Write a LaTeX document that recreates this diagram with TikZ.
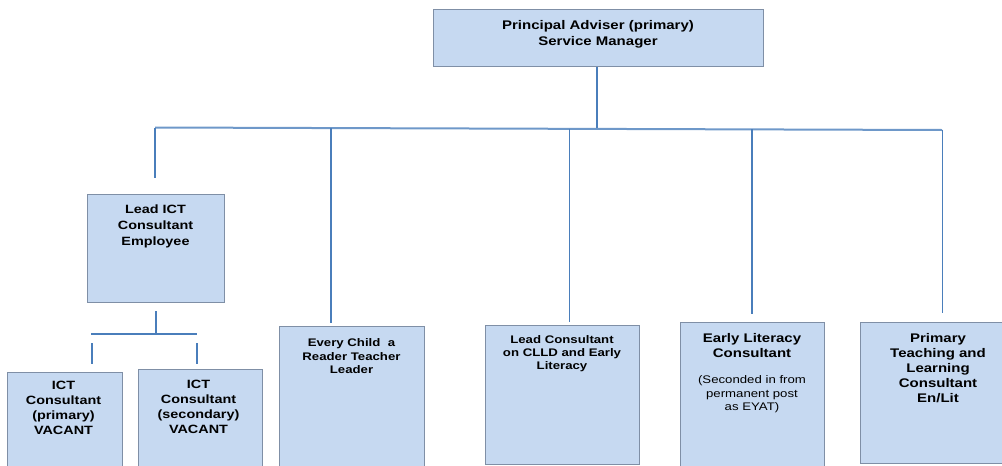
\documentclass[tikz,border=0pt]{standalone}
\usepackage{fontspec}
\setmainfont{Liberation Sans}[FakeStretch=1.2]
\begin{document}
\begin{tikzpicture}[x=1pt,y=-1pt,
  box/.style={draw=boxline, fill=boxfill, line width=0.8pt, rectangle, inner sep=0pt},
  txt/.style={align=center, inner sep=0pt, anchor=north, text=black},
  conn/.style={draw=connblue, line width=#1},
  conn/.default=2pt]
\definecolor{boxfill}{HTML}{C6D9F1}
\definecolor{boxline}{HTML}{7F8FA6}
\definecolor{connblue}{HTML}{4A7EBB}
\useasboundingbox (0,0) rectangle (1002,466);
\clip (0,0) rectangle (1002,466);
% boxes
\node[box, minimum width=330pt, minimum height=57pt, anchor=north west] (top) at (433,9) {};
\node[box, minimum width=137pt, minimum height=108pt, anchor=north west] (leadict) at (87,194) {};
\node[box, minimum width=115pt, minimum height=110pt, anchor=north west] (ictp) at (7,372) {};
\node[box, minimum width=124pt, minimum height=110pt, anchor=north west] (icts) at (138,369) {};
\node[box, minimum width=145pt, minimum height=150pt, anchor=north west] (every) at (279,326) {};
\node[box, minimum width=154pt, minimum height=139pt, anchor=north west] (leadc) at (485,325) {};
\node[box, minimum width=144pt, minimum height=160pt, anchor=north west] (early) at (680,322) {};
\node[box, minimum width=160pt, minimum height=141pt, anchor=north west] (primt) at (860,322) {};
% texts
\node[txt, font=\bfseries\fontsize{12.5}{16}\selectfont] (ttop) at (598,20.5) {Principal Adviser (primary)\\Service Manager};
\node[txt, font=\bfseries\fontsize{12}{16}\selectfont] (tleadict) at (155.5,204.5) {Lead ICT\\Consultant\\Employee};
\node[txt, font=\bfseries\fontsize{12}{15}\selectfont] (tictp) at (63.5,381) {ICT\\Consultant\\(primary)\\VACANT};
\node[txt, font=\bfseries\fontsize{12}{15}\selectfont] (ticts) at (198.5,380) {ICT\\Consultant\\(secondary)\\VACANT};
\node[txt, font=\bfseries\fontsize{11}{13.5}\selectfont] (tevery) at (351.5,338.5) {Every Child\ \ a\\Reader Teacher\\Leader};
\node[txt, font=\bfseries\fontsize{11}{13}\selectfont] (tleadc) at (562,335.5) {Lead Consultant\\on CLLD and Early\\Literacy};
\node[txt, font=\bfseries\fontsize{12.5}{15}\selectfont] (tearly) at (752,333) {Early Literacy\\Consultant};
\node[txt, font=\fontsize{11}{13.5}\selectfont] (tearly2) at (752,375.5) {(Seconded in from\\permanent post\\as EYAT)};
\node[txt, font=\bfseries\fontsize{12.5}{15}\selectfont] (tprimt) at (938,333) {Primary\\Teaching and\\Learning\\Consultant\\En/Lit};
% connector coordinates
\coordinate (jtop) at (597,128.3);
\coordinate (busL) at (155,127.5);
\coordinate (busR) at (942,130);
\coordinate (b2) at (331,128);
\coordinate (b3) at (569,128.7);
\coordinate (b4) at (752,129.3);
\coordinate (e1) at (155,178);
\coordinate (e2) at (331,323);
\coordinate (e3) at (569,322);
\coordinate (e4) at (752,314);
\coordinate (e5) at (942,313);
\coordinate (lictb) at (156,311);
\coordinate (sb) at (156,334);
\coordinate (sbL) at (91,334);
\coordinate (sbR) at (197,334);
\coordinate (sL1) at (92,343);
\coordinate (sL2) at (92,364);
\coordinate (sR1) at (197,343);
\coordinate (sR2) at (197,364);
% connectors
\draw[conn] (top.south -| jtop) -- (jtop);
\draw[conn=2pt, draw=connblue!80] (busL) -- (busR);
\draw[conn=1.5pt] (busL) -- (e1);
\draw[conn=2pt] (b2) -- (e2);
\draw[conn=1pt] (b3) -- (e3);
\draw[conn=2pt] (b4) -- (e4);
\draw[conn=1pt] (busR) -- (e5);
\draw[conn=2pt] (lictb) -- (sb);
\draw[conn=1.5pt] (sbL) -- (sbR);
\draw[conn=2pt] (sL1) -- (sL2);
\draw[conn=2pt] (sR1) -- (sR2);
\end{tikzpicture}
\end{document}
